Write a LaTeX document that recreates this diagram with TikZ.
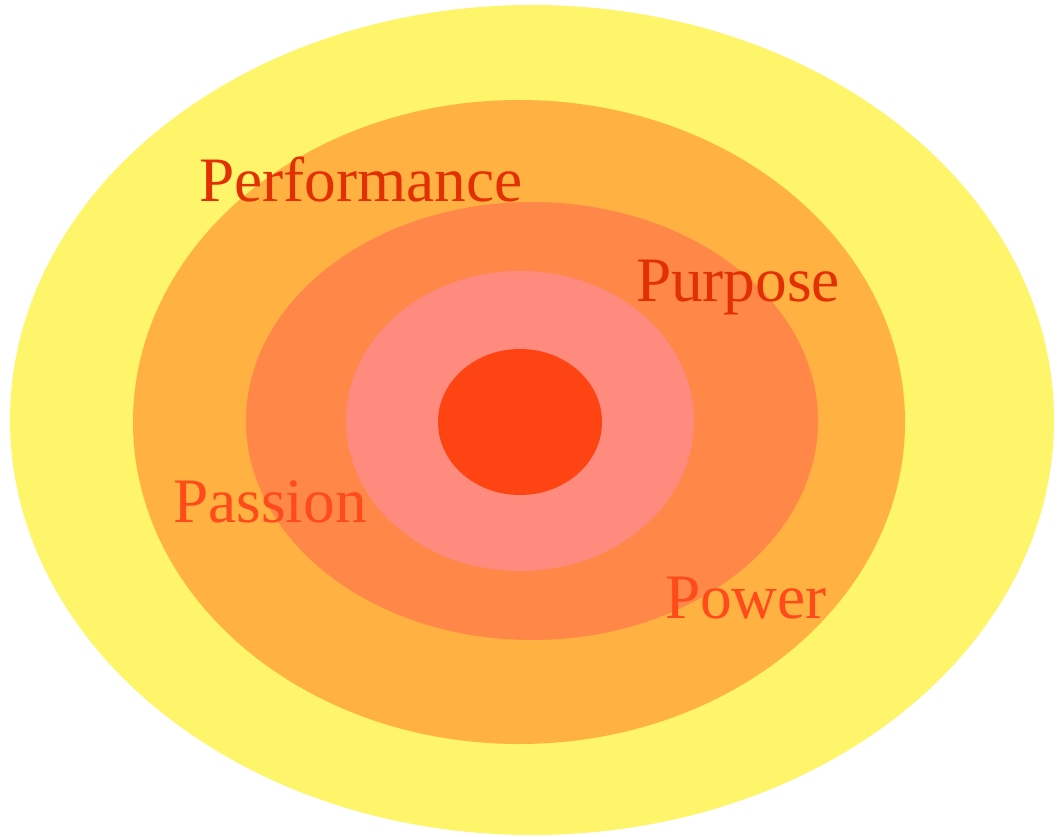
\documentclass[tikz,border=0pt]{standalone}
\usepackage{fontspec}
\setmainfont{Liberation Serif}
\usepackage{tikz}
\usetikzlibrary{calc}
\definecolor{ringA}{HTML}{FFF56A}
\definecolor{ringB}{HTML}{FFB142}
\definecolor{ringC}{HTML}{FF8848}
\definecolor{ringD}{HTML}{FF8A7E}
\definecolor{ringE}{HTML}{FF4414}
\definecolor{txtdark}{HTML}{E33000}
\definecolor{txtlight}{HTML}{FF4A1A}

\begin{document}
\begin{tikzpicture}[x=0.01cm, y=-0.01cm]
		\tikzset{lab/.style={anchor=base, inner sep=0pt, font=\fontsize{18}{20}\selectfont}}
		\useasboundingbox (0,0) rectangle (1058,837);
		% rings, outside in
		\fill[ringA] (532,420) ellipse [x radius=522, y radius=415];
		\fill[ringB] (519,422) ellipse [x radius=386, y radius=322];
		\fill[ringC] (532,421) ellipse [x radius=286, y radius=219];
		\fill[ringD] (520,421) ellipse [x radius=174, y radius=150];
		\fill[ringE] (520,422) ellipse [x radius=82, y radius=73];
		% labels
		\node[lab, text=txtdark] (perf) at (361,202) {Performance};
		\node[lab, text=txtdark] (purp) at (738,302) {Purpose};
		\node[lab, text=txtlight] (pass) at (270,522) {Passion};
		\node[lab, text=txtlight] (powr) at (746,618) {Power};
	\end{tikzpicture}
\end{document}
